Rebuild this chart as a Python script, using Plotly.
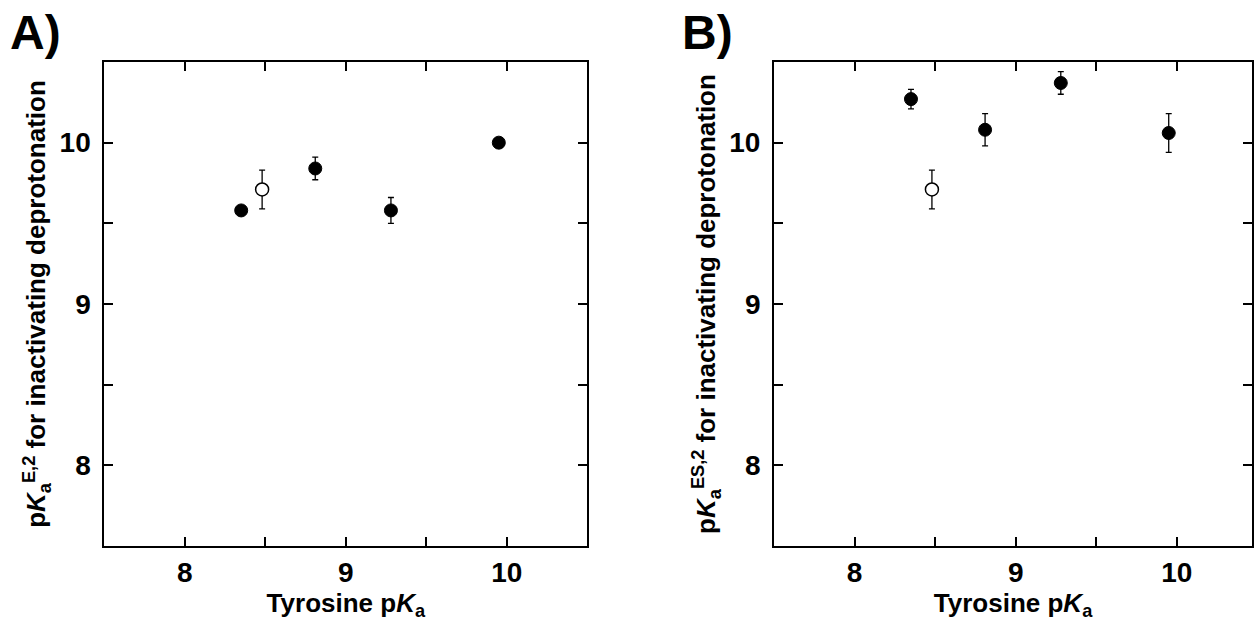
import plotly.graph_objects as go

# Tyrosine pKa values (x) for the five variants
tyr_pka_filled = [8.35, 8.81, 9.28, 9.95]
tyr_pka_open = [8.48]

# Panel A: pKa^E,2
pka_e2_filled = [9.58, 9.84, 9.58, 10.00]
pka_e2_filled_err = [0.03, 0.07, 0.08, 0.03]
pka_e2_open = [9.71]
pka_e2_open_err = [0.12]

# Panel B: pKa^ES,2
pka_es2_filled = [10.27, 10.08, 10.37, 10.06]
pka_es2_filled_err = [0.06, 0.10, 0.07, 0.12]
pka_es2_open = [9.71]
pka_es2_open_err = [0.12]

tick_vals = [8, 8.5, 9, 9.5, 10]
tick_text = ["8", "", "9", "", "10"]

FONT = "Liberation Sans, Arial, Helvetica, sans-serif"
W, H = 1254, 622

fig = go.Figure()

def add_panel(xa, ya, yf, yf_err, yo, yo_err):
    fig.add_trace(go.Scatter(
        x=tyr_pka_filled, y=yf, mode="markers", xaxis=xa, yaxis=ya,
        marker=dict(symbol="circle", size=13, color="black",
                    line=dict(color="black", width=1)),
        error_y=dict(type="data", array=yf_err, visible=True,
                     color="black", thickness=1.3, width=3),
        showlegend=False))
    fig.add_trace(go.Scatter(
        x=tyr_pka_open, y=yo, mode="markers", xaxis=xa, yaxis=ya,
        marker=dict(symbol="circle", size=13, color="white",
                    line=dict(color="black", width=1.5)),
        error_y=dict(type="data", array=yo_err, visible=True,
                     color="black", thickness=1.3, width=3),
        showlegend=False))

add_panel("x", "y", pka_e2_filled, pka_e2_filled_err, pka_e2_open, pka_e2_open_err)
add_panel("x2", "y2", pka_es2_filled, pka_es2_filled_err, pka_es2_open, pka_es2_open_err)

tickfont = dict(family=FONT, size=28, color="black", weight="bold")
titlefont = dict(family=FONT, size=26, color="black", weight="bold")

common_x = dict(
    tickvals=tick_vals, ticktext=tick_text, ticks="inside", ticklen=9,
    tickwidth=2, tickcolor="black", showline=True, linewidth=2,
    linecolor="black", mirror="ticks", showgrid=False, zeroline=False,
    tickfont=tickfont, ticklabelstandoff=0,
    title=dict(text="Tyrosine p<i>K</i><sub>a</sub>", font=titlefont, standoff=0),
)
common_y = dict(
    range=[7.5, 10.5], tickvals=tick_vals, ticktext=tick_text,
    ticks="inside", ticklen=9, tickwidth=2, tickcolor="black",
    showline=True, linewidth=2, linecolor="black", mirror="ticks",
    showgrid=False, zeroline=False, tickfont=tickfont, ticklabelstandoff=6,
)

fig.update_layout(
    width=W, height=H,
    margin=dict(l=0, r=0, t=62, b=76),
    paper_bgcolor="white", plot_bgcolor="white",
    xaxis=dict(domain=[104.5 / W, 588.3 / W], range=[7.5, 10.5], anchor="y", **common_x),
    xaxis2=dict(domain=[775.3 / W, 1.0], range=[7.5, 10.467], anchor="y2", **common_x),
    yaxis=dict(anchor="x", domain=[0, 1],
               title=dict(text="p<i>K</i><sub>a</sub><sup>E,2</sup> for inactivating deprotonation",
                          font=titlefont, standoff=6), **common_y),
    yaxis2=dict(anchor="x2", domain=[0, 1],
                title=dict(text="p<i>K</i><sub>a</sub><sup>ES,2</sup> for inactivating deprotonation",
                           font=titlefont, standoff=6), **common_y),
    annotations=[
        dict(text="A)", x=8 / W, y=1.06, xref="paper", yref="paper",
             xanchor="left", yanchor="middle", showarrow=False,
             font=dict(family=FONT, size=48, color="black", weight="bold")),
        dict(text="B)", x=681 / W, y=1.06, xref="paper", yref="paper",
             xanchor="left", yanchor="middle", showarrow=False,
             font=dict(family=FONT, size=48, color="black", weight="bold")),
    ],
)

fig.write_html(
    "out.html",
    config={"displayModeBar": False},
    post_script="document.body.style.margin='0';document.body.style.overflow='hidden';",
)
